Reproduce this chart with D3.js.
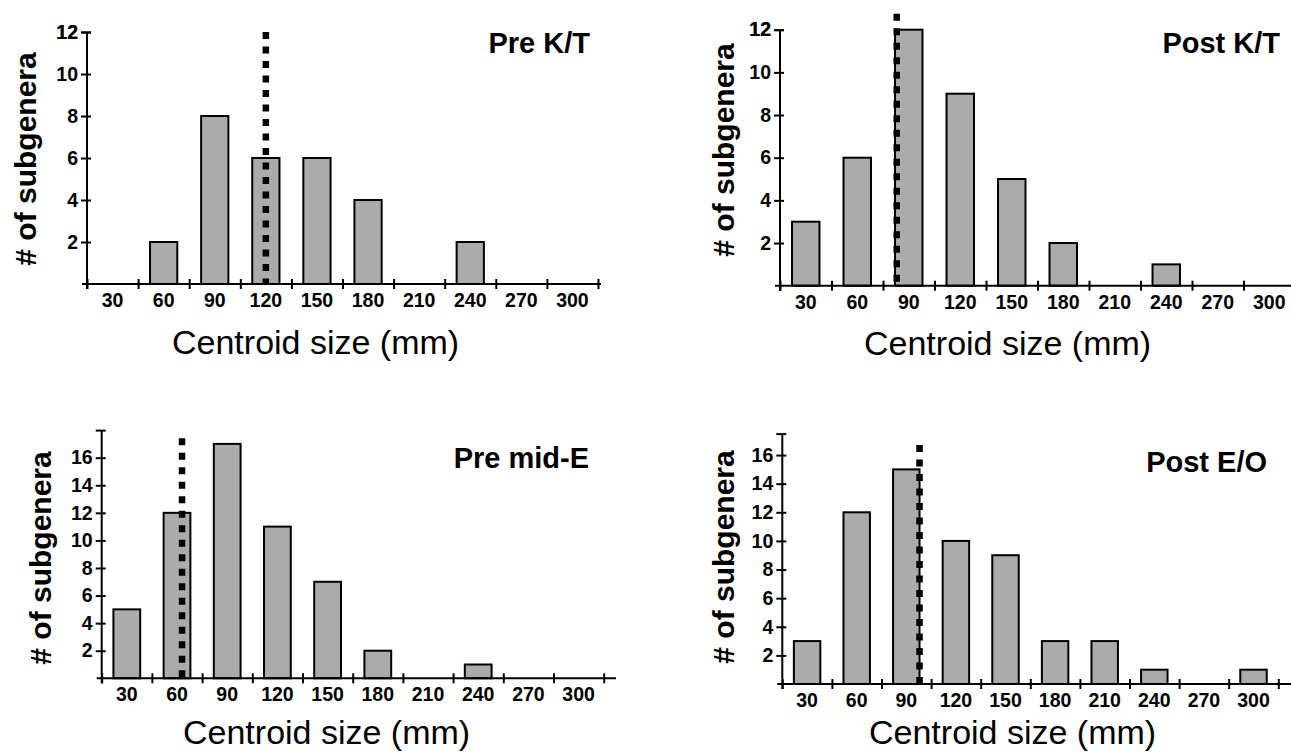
<!DOCTYPE html>
<html>
<head>
<meta charset="utf-8">
<script src="https://cdn.jsdelivr.net/npm/d3@7"></script>
<style>
  html, body { margin: 0; padding: 0; background: #fff; }
  svg { display: block; }
  text { font-family: Arial, "Liberation Sans", Helvetica, sans-serif; fill: #000; }
</style>
</head>
<body>
<svg id="chart" width="1291" height="752"></svg>
<script>
// ---- data ----
const categories = [30, 60, 90, 120, 150, 180, 210, 240, 270, 300];
const binEdges = [15, 45, 75, 105, 135, 165, 195, 225, 255, 285, 315];
const preKT   = [0, 2, 8, 6, 6, 4, 0, 2, 0, 0];
const postKT  = [3, 6, 12, 9, 5, 2, 0, 1, 0, 0];
const preMidE = [5, 12, 17, 11, 7, 2, 0, 1, 0, 0];
const postEO  = [3, 12, 15, 10, 9, 3, 3, 1, 0, 1];
const panelTitles = ["Pre K/T", "Post K/T", "Pre mid-E", "Post E/O"];
const meanSizes = [120, 83, 63, 98];
const meanLineTops = [12, 12.75, 17.4, 16.7];
const yTicksTop = [2, 4, 6, 8, 10, 12];
const yTicksBottom = [2, 4, 6, 8, 10, 12, 14, 16];
const yMaxes = [12, 12, 18, 17.5];
const xTitle = "Centroid size (mm)";
const yTitle = "# of subgenera";

// ---- layout (pixels) ----
const layout = [
  { x0: 87,    x1: 598,    axisEnd: 601,  y0: 284,   yTop: 32,    titleX: 590,  titleY: 53,  xtX: 172, xtY: 354, ylX: 25,  ylY: 159, ticks: yTicksTop },
  { x0: 780,   x1: 1295,   axisEnd: 1295, y0: 285.7, yTop: 29.7,  titleX: 1280, titleY: 53,  xtX: 864, xtY: 355, ylX: 723, ylY: 150, ticks: yTicksTop },
  { x0: 101.7, x1: 603.7,  axisEnd: 616,  y0: 678.3, yTop: 430.1, titleX: 589,  titleY: 468, xtX: 183, xtY: 744, ylX: 40,  ylY: 558, ticks: yTicksBottom },
  { x0: 782.3, x1: 1278.3, axisEnd: 1295, y0: 684,   yTop: 433.6, titleX: 1267, titleY: 472, xtX: 869, xtY: 744, ylX: 723, ylY: 557, ticks: yTicksBottom }
];
const seriesList = [preKT, postKT, preMidE, postEO];
const barHalf = 8; // in data units (centroid size)

const svg = d3.select("#chart");

layout.forEach((L, i) => {
  const g = svg.append("g");
  const x = d3.scaleLinear().domain([binEdges[0], binEdges[binEdges.length - 1]]).range([L.x0, L.x1]);
  const y = d3.scaleLinear().domain([0, yMaxes[i]]).range([L.y0, L.yTop]);
  const vals = seriesList[i];

  // bars
  g.selectAll("rect.bar").data(categories.map((c, k) => ({ c, v: vals[k] })).filter(d => d.v > 0))
    .enter().append("rect")
    .attr("class", "bar")
    .attr("x", d => x(d.c - barHalf))
    .attr("width", d => x(d.c + barHalf) - x(d.c - barHalf))
    .attr("y", d => y(d.v))
    .attr("height", d => y(0) - y(d.v))
    .attr("fill", "#ababab")
    .attr("stroke", "#000")
    .attr("stroke-width", 2);

  // x axis
  const xAxis = d3.axisBottom(x).tickValues(binEdges).tickSize(5).tickFormat("");
  const gx = g.append("g").attr("transform", `translate(0,${L.y0})`).call(xAxis);
  gx.select(".domain").remove();
  gx.selectAll(".tick line").attr("y1", -5).attr("y2", 5).attr("stroke", "#000").attr("stroke-width", 2);
  g.append("line").attr("x1", L.x0 - 5).attr("x2", L.axisEnd).attr("y1", L.y0).attr("y2", L.y0)
    .attr("stroke", "#000").attr("stroke-width", 2);
  g.selectAll("text.xl").data(categories).enter().append("text")
    .attr("class", "xl")
    .attr("x", d => x(d)).attr("y", L.y0 + 23)
    .attr("text-anchor", "middle")
    .attr("font-weight", "bold").attr("font-size", 19.5)
    .text(d => d);

  // y axis
  const yAxis = d3.axisLeft(y).tickValues([...L.ticks, yMaxes[i]]).tickSize(5)
    .tickFormat(d => L.ticks.includes(d) ? d : "");
  const gy = g.append("g").attr("transform", `translate(${L.x0},0)`).call(yAxis);
  gy.select(".domain").remove();
  gy.selectAll(".tick line").attr("x1", -6).attr("x2", 4).attr("stroke", "#000").attr("stroke-width", 2);
  gy.selectAll(".tick text").attr("x", -9).attr("font-weight", "bold").attr("font-size", 19.5)
    .attr("font-family", "Arial, 'Liberation Sans', sans-serif").attr("fill", "#000");
  g.append("line").attr("x1", L.x0).attr("x2", L.x0).attr("y1", L.yTop).attr("y2", L.y0 + 5)
    .attr("stroke", "#000").attr("stroke-width", 2);

  // mean dashed line
  g.append("line")
    .attr("x1", x(meanSizes[i])).attr("x2", x(meanSizes[i]))
    .attr("y1", y(meanLineTops[i])).attr("y2", y(0))
    .attr("stroke", "#000").attr("stroke-width", 6.5)
    .attr("stroke-dasharray", "7 7.5");

  // panel title
  g.append("text").attr("x", L.titleX).attr("y", L.titleY)
    .attr("text-anchor", "end").attr("font-weight", "bold").attr("font-size", 29)
    .text(panelTitles[i]);

  // x title
  g.append("text").attr("x", L.xtX).attr("y", L.xtY)
    .attr("font-size", 34).text(xTitle);

  // y title
  g.append("text")
    .attr("transform", `translate(${L.ylX},${L.ylY}) rotate(-90)`)
    .attr("text-anchor", "middle").attr("dy", "0.35em")
    .attr("font-weight", "bold").attr("font-size", 30)
    .text(yTitle);
});
</script>
</body>
</html>
